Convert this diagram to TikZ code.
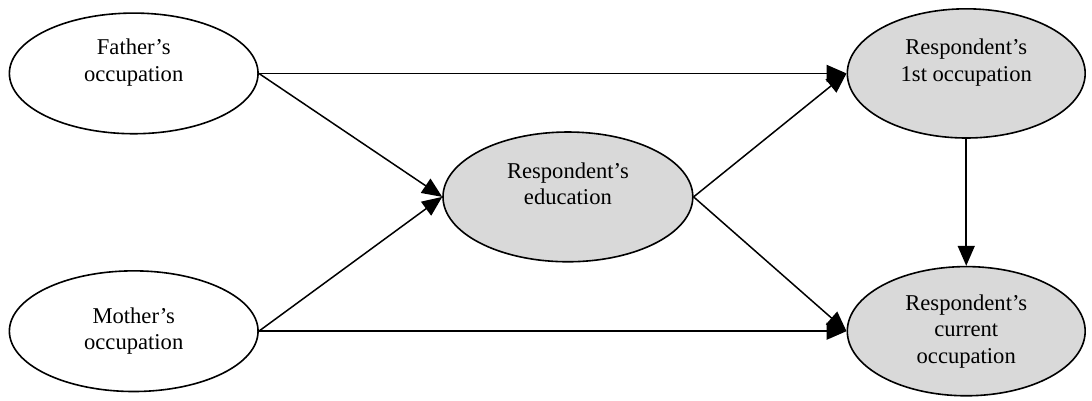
\documentclass[tikz,border=0pt]{standalone}
\usepackage{fontspec}
\setmainfont{Liberation Serif}
\usepackage{tikz}
\usetikzlibrary{shapes.geometric,arrows.meta}
\definecolor{RespGray}{RGB}{217,217,217}

\begin{document}
\begin{tikzpicture}[
  >={Triangle[length=10pt,width=8.5pt]},
  pnode/.style={draw=black,fill=white,ellipse,line width=0.8pt,inner sep=0pt,
                minimum width=4.37cm,minimum height=2.12cm,align=center,
                font=\fontsize{11.3}{13.2}\selectfont},
  rnode/.style={pnode,fill=RespGray,minimum width=4.18cm,minimum height=2.27cm},
]
\useasboundingbox (0,0) rectangle (19.19,7.03);
\node[pnode] (father) at (2.35,5.74) {Father's\\occupation\\\mbox{}};
\node[pnode] (mother) at (2.35,1.21) {Mother's\\occupation};
\node[rnode,minimum width=4.39cm,minimum height=2.28cm] (edu) at (9.98,3.57) {Respondent's\\education\\\mbox{}};
\node[rnode] (first) at (16.98,5.74) {Respondent's\\1st occupation\\\mbox{}};
\node[rnode] (current) at (16.98,1.21) {Respondent's\\current\\occupation};
\foreach \a/\b in {father.east/first.west,father.east/edu.west,mother.east/edu.west,
                   mother.east/current.west,edu.east/first.west,edu.east/current.west,
                   first.south/current.north}
  \draw[->,line width=0.75pt] (\a) -- (\b);
\end{tikzpicture}
\end{document}
